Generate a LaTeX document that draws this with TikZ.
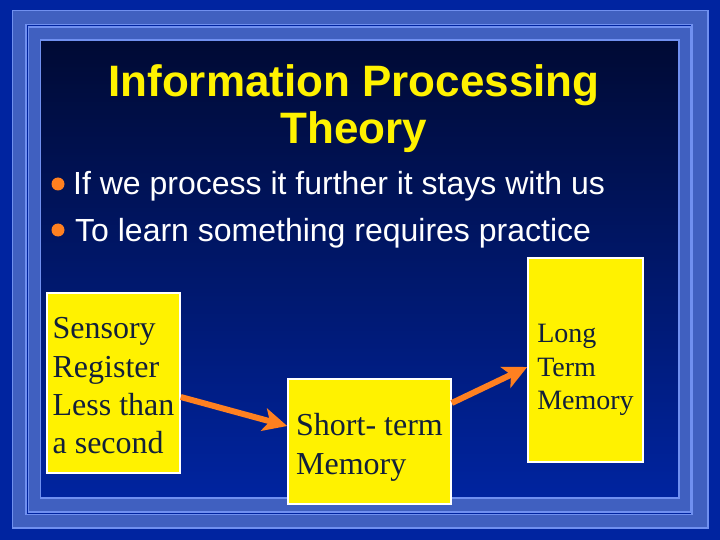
\documentclass[tikz,border=0pt]{standalone}
\usepackage{fontspec}
\setmainfont{Liberation Sans}
\newfontfamily\boxfont{Liberation Serif}
\usetikzlibrary{arrows.meta,calc}

\definecolor{slidebg}{RGB}{0,36,160}
\definecolor{bandblue}{RGB}{64,96,192}
\definecolor{edgeblue}{RGB}{112,144,240}
\definecolor{topnavy}{RGB}{0,10,52}
\definecolor{boxtext}{RGB}{18,32,58}
\definecolor{dotorange}{RGB}{255,128,32}

\tikzset{
  memorybox/.style={draw=white, line width=1.5pt, fill=yellow, text=boxtext, align=left, inner sep=0pt, font=\boxfont\fontsize{32}{38.4}\selectfont},
  flowarrow/.style={draw=dotorange, line width=6pt, -{Stealth[length=24pt,width=23pt,inset=6pt]}},
  bandline/.style={draw=edgeblue, line width=1.5pt},
  itemtext/.style={text=white, inner sep=0pt, font=\fontsize{32}{38.4}\selectfont},
}

\begin{document}
\begin{tikzpicture}[x=1pt,y=1pt,yscale=-1]
\useasboundingbox (0,0) rectangle (720,540);

%Background
\fill[slidebg] (0,0) rectangle (720,540);
%Frame bands
\draw[bandline, fill=bandblue] (12.5,10.5) rectangle (708,528);
\draw[bandline, fill=slidebg] (26,24.5) rectangle (692,514.5);
\draw[bandline, fill=bandblue] (28.5,27) rectangle (690.5,512);
\draw[bandline, top color=topnavy, bottom color=slidebg] (40.5,40) rectangle (679,498);

% Title
\node[text=yellow, align=center, inner sep=0pt, font=\bfseries\fontsize{44}{47}\selectfont] (title) at (354,109) {Information Processing\\Theory};

% Bullet items
\node[itemtext, anchor=base west] (itemone) at (73,195) {If we process it further it stays with us};
\node[itemtext, anchor=base west] (itemtwo) at (75,241) {To learn something requires practice};
\fill[dotorange] ($(itemone.base west)+(-15,-11)$) circle (6.5);
\fill[dotorange] ($(itemtwo.base west)+(-17,-11)$) circle (6.5);

% Memory boxes
\node[memorybox, minimum width=133pt, minimum height=180pt] (sensory) at (113.5,383) {\rule{0pt}{27pt}Sensory\\Register\\Less than\\a second};
\node[memorybox, minimum width=163pt, minimum height=125pt] (shortterm) at (369.5,441.5) {\rule{0pt}{34pt}Short- term\\Memory};
\node[memorybox, minimum width=115pt, minimum height=204pt, font=\boxfont\fontsize{28}{33.6}\selectfont] (longterm) at (585.5,360) {\rule{0pt}{38.5pt}Long\\Term\\Memory};

% Arrows
\draw[flowarrow] ($(sensory.east)+(0,14)$) -- ($(shortterm.west)+(0,-15.5)$);
\draw[flowarrow] ($(shortterm.east)+(0,-38.5)$) -- ($(longterm.west)+(0,7)$);

\end{tikzpicture}
\end{document}
